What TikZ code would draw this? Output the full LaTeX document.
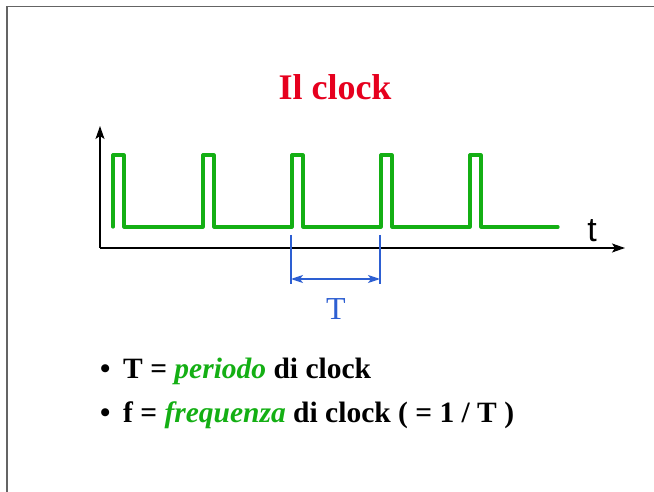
\documentclass[tikz,border=0pt]{standalone}
\usepackage{fontspec}
\setmainfont{Liberation Serif}
\newfontfamily\arialf{Liberation Sans}
\usetikzlibrary{arrows.meta}
\definecolor{sigGreen}{RGB}{20,175,20}
\definecolor{dimBlue}{RGB}{45,95,210}
\definecolor{titleRed}{RGB}{230,0,30}
\definecolor{frameGray}{RGB}{100,100,100}
\tikzset{
  axis/.style={black, line width=1.4pt, -{Stealth[length=13pt,width=9pt,inset=3pt]}},
  wave/.style={sigGreen, line width=3.2pt, line join=round, line cap=round},
  dimline/.style={dimBlue, line width=1.3pt},
  dimarrow/.style={dimBlue, line width=1.3pt, {Stealth[length=12pt,width=8pt,inset=3pt]}-{Stealth[length=12pt,width=8pt,inset=3pt]}},
  bullettext/.style={anchor=base west, inner sep=0pt, font=\fontsize{29.5}{33}\selectfont\bfseries},
}
\begin{document}
\begin{tikzpicture}[x=1pt,y=-1pt]
\useasboundingbox (0,0) rectangle (654,492);
\fill[white] (0,0) rectangle (654,492);
% frame
\draw[frameGray, line width=1.5pt] (7,492) -- (7,6.5) -- (654,6.5);
% title
\node[titleRed, font=\fontsize{36}{40}\selectfont\bfseries] (title) at (335,87) {Il clock};
% axes
\coordinate (O) at (100,248);
\coordinate (ytop) at (100,126);
\coordinate (xend) at (625,248);
\draw[axis] (O) -- (ytop);
\draw[axis] (O) -- (xend);
\node[font=\arialf\fontsize{34}{36}\selectfont, anchor=base] (tlab) at (592,241) {t};
% clock waveform
\draw[wave] (113,227) -- (113,155) -- (124,155) -- (124,227)
  -- (203,227) -- (203,155) -- (214,155) -- (214,227)
  -- (292,227) -- (292,155) -- (303,155) -- (303,227)
  -- (381,227) -- (381,155) -- (392,155) -- (392,227)
  -- (470,227) -- (470,155) -- (481,155) -- (481,227)
  -- (558,227);
% period marker
\coordinate (m1t) at (291,235);
\coordinate (m1b) at (291,284);
\coordinate (m2t) at (380,235);
\coordinate (m2b) at (380,284);
\draw[dimline] (m1t) -- (m1b);
\draw[dimline] (m2t) -- (m2b);
\coordinate (a1) at (291,279);
\coordinate (a2) at (380,279);
\draw[dimarrow] (a1) -- (a2);
\node[dimBlue, font=\fontsize{32}{36}\selectfont, anchor=base] (Tlab) at (336,319) {T};
% bullets
\node[bullettext] (b1) at (100,378) {\textbullet};
\node[bullettext] (l1) at (123,378) {T = \textcolor{sigGreen}{\textit{periodo}} di clock};
\node[bullettext] (b2) at (100,422) {\textbullet};
\node[bullettext] (l2) at (123,422) {f = \textcolor{sigGreen}{\textit{frequenza}} di clock ( = 1 / T )};
\end{tikzpicture}
\end{document}
